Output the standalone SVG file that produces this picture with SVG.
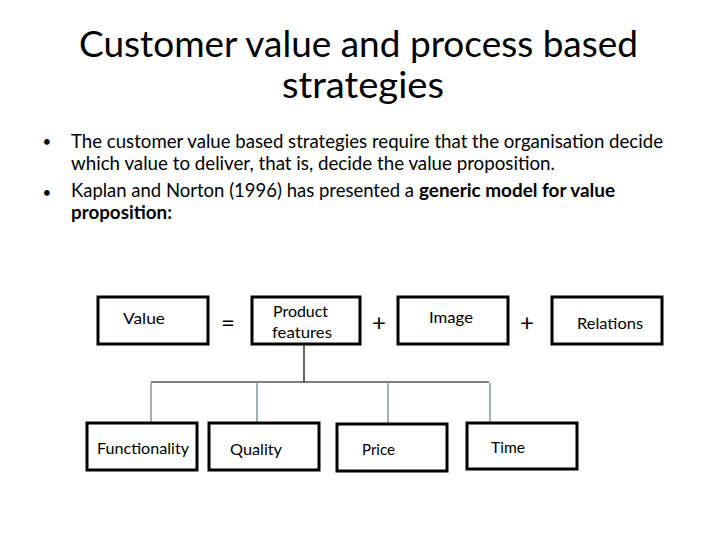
<svg xmlns="http://www.w3.org/2000/svg" width="720" height="540" viewBox="0 0 720 540">
<style>
text{font-family:Lato,"Liberation Sans",sans-serif;fill:#000}
.title{font-size:37px}
.body{font-size:19px}
.dot{font-size:15px}
.b{font-weight:bold}
.lbl{font-size:16px}
.op{font-size:24px}
.box{fill:#fff;stroke:#000;stroke-width:3}
.trunk{stroke:#000;stroke-width:1.2;fill:none}
.drop{stroke:#5f7a8a;stroke-width:1.2;fill:none}
</style>
<rect width="720" height="540" fill="#fff"/>
<g id="title">
<text class="title" x="79" y="57" textLength="559" lengthAdjust="spacingAndGlyphs">Customer value and process based</text>
<text class="title" x="282" y="98" textLength="162" lengthAdjust="spacingAndGlyphs">strategies</text>
</g>
<g id="bullets">
<text class="dot" x="42.5" y="146.5">•</text>
<text class="body" x="71" y="148" textLength="592" lengthAdjust="spacingAndGlyphs">The customer value based strategies require that the organisation decide</text>
<text class="body" x="71" y="170" textLength="484" lengthAdjust="spacingAndGlyphs">which value to deliver, that is, decide the value proposition.</text>
<text class="dot" x="42.5" y="197.5">•</text>
<text class="body" x="71" y="197" textLength="343" lengthAdjust="spacingAndGlyphs">Kaplan and Norton (1996) has presented a</text>
<text class="body b" x="419" y="197" textLength="196" lengthAdjust="spacingAndGlyphs">generic model for value</text>
<text class="body b" x="71" y="219" textLength="101" lengthAdjust="spacingAndGlyphs">proposition:</text>
</g>
<g id="connectors">
<line class="trunk" x1="304" y1="344" x2="304" y2="382"/>
<line class="trunk" x1="151" y1="382" x2="489" y2="382"/>
<line class="drop" x1="151" y1="383" x2="151" y2="423"/>
<line class="drop" x1="257" y1="383" x2="257" y2="423"/>
<line class="drop" x1="388" y1="383" x2="388" y2="423"/>
<line class="drop" x1="490" y1="383" x2="490" y2="423"/>
</g>
<g id="value">
<rect class="box" x="98" y="297" width="110" height="47"/>
<text class="lbl" x="123" y="324" textLength="42" lengthAdjust="spacingAndGlyphs">Value</text>
</g>
<g id="eq"><text class="op" x="228" y="331" text-anchor="middle">=</text></g>
<g id="product-features">
<rect class="box" x="252" y="297" width="108" height="47"/>
<text class="lbl" x="273" y="317" textLength="55" lengthAdjust="spacingAndGlyphs">Product</text>
<text class="lbl" x="272" y="338" textLength="60" lengthAdjust="spacingAndGlyphs">features</text>
</g>
<g id="plus1"><text class="op" x="379" y="331" text-anchor="middle">+</text></g>
<g id="image">
<rect class="box" x="398" y="297" width="110" height="47"/>
<text class="lbl" x="429" y="323" textLength="44" lengthAdjust="spacingAndGlyphs">Image</text>
</g>
<g id="plus2"><text class="op" x="527" y="331" text-anchor="middle">+</text></g>
<g id="relations">
<rect class="box" x="552" y="297" width="110" height="47"/>
<text class="lbl" x="577" y="329" textLength="66" lengthAdjust="spacingAndGlyphs">Relations</text>
</g>
<g id="functionality">
<rect class="box" x="87" y="423" width="110" height="47"/>
<text class="lbl" x="97" y="454" textLength="92" lengthAdjust="spacingAndGlyphs">Functionality</text>
</g>
<g id="quality">
<rect class="box" x="209" y="423" width="110" height="47"/>
<text class="lbl" x="230" y="455" textLength="52" lengthAdjust="spacingAndGlyphs">Quality</text>
</g>
<g id="price">
<rect class="box" x="337" y="424" width="110" height="47"/>
<text class="lbl" x="362" y="455" textLength="33" lengthAdjust="spacingAndGlyphs">Price</text>
</g>
<g id="time">
<rect class="box" x="467" y="423" width="110" height="46"/>
<text class="lbl" x="491" y="453" textLength="34" lengthAdjust="spacingAndGlyphs">Time</text>
</g>
</svg>
